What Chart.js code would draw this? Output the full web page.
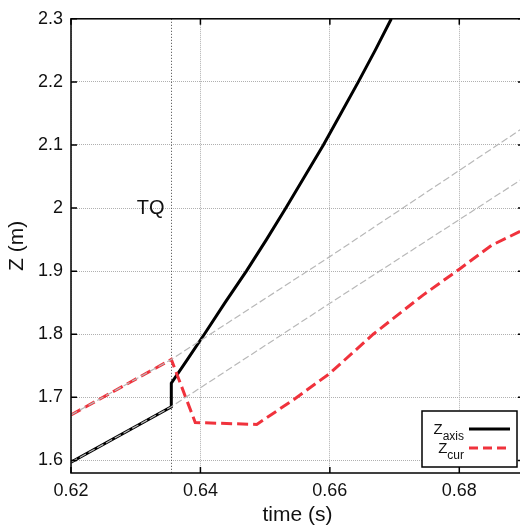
<!DOCTYPE html>
<html>
<head>
<meta charset="utf-8">
<script src="https://cdn.jsdelivr.net/npm/chart.js@4"></script>
<style>
  html, body { margin: 0; padding: 0; background: #fff; overflow: hidden; }
  #wrap { width: 520px; height: 531px; overflow: hidden; }
</style>
</head>
<body>
<div id="wrap"><canvas id="chart" width="528" height="531"></canvas></div>
<script>
// tick labels
const xTicks = [0.62, 0.64, 0.66, 0.68];
const yTicks = [1.6, 1.7, 1.8, 1.9, 2.0, 2.1, 2.2, 2.3];

// thermal quench time
const tqTime = 0.6355;
const tqLabel = 'TQ';

// Z_axis (black)
const zAxisT = [0.62, 0.6355, 0.6355, 0.638, 0.6406, 0.6438, 0.6471, 0.6502, 0.6532, 0.6561, 0.659, 0.6617, 0.6644, 0.667, 0.6695];
const zAxisZ = [1.597, 1.685, 1.7225, 1.76, 1.80, 1.85, 1.90, 1.95, 2.00, 2.05, 2.10, 2.15, 2.20, 2.25, 2.30];

// Z_cur (red dashed)
const zCurT = [0.62, 0.6355, 0.6392, 0.6487, 0.6545, 0.660, 0.6667, 0.6744, 0.680, 0.685, 0.690];
const zCurZ = [1.672, 1.760, 1.660, 1.657, 1.697, 1.738, 1.800, 1.862, 1.903, 1.941, 1.966];

// light grey guide lines
const guideUpperT = [0.62, 0.6355, 0.66, 0.69];
const guideUpperZ = [1.672, 1.760, 1.923, 2.128];
const guideLowerT = [0.62, 0.6355, 0.66, 0.69];
const guideLowerZ = [1.597, 1.685, 1.849, 2.048];

const legendNames = ['axis', 'cur'];

const pts = (t, z) => t.map((v, i) => ({x: v, y: z[i]}));
const FONT = '"Liberation Sans", Arial, Helvetica, sans-serif';

const overlay = {
  id: 'overlay',
  beforeDatasetsDraw(chart) {
    const {ctx, chartArea: a, scales: {x, y}} = chart;
    const px = Math.round(x.getPixelForValue(tqTime)) + 0.5;
    ctx.save();
    ctx.strokeStyle = '#444';
    ctx.lineWidth = 1;
    ctx.setLineDash([1, 2]);
    ctx.beginPath();
    ctx.moveTo(px, a.top);
    ctx.lineTo(px, a.bottom);
    ctx.stroke();
    ctx.setLineDash([]);
    ctx.font = '20px ' + FONT;
    ctx.fillStyle = '#111';
    ctx.textAlign = 'right';
    ctx.textBaseline = 'alphabetic';
    ctx.fillText(tqLabel, px - 7, y.getPixelForValue(1.9905));
    ctx.restore();
  },
  afterDatasetsDraw(chart) {
    const {ctx, chartArea: a, scales: {x, y}} = chart;
    ctx.save();
    ctx.strokeStyle = '#000';
    ctx.lineWidth = 1.5;
    ctx.strokeRect(a.left, a.top, a.right - a.left, a.bottom - a.top);
    ctx.beginPath();
    xTicks.forEach(v => {
      const p = x.getPixelForValue(v);
      ctx.moveTo(p, a.bottom); ctx.lineTo(p, a.bottom - 6);
      ctx.moveTo(p, a.top); ctx.lineTo(p, a.top + 6);
    });
    yTicks.forEach(v => {
      const p = y.getPixelForValue(v);
      ctx.moveTo(a.left, p); ctx.lineTo(a.left + 6, p);
      ctx.moveTo(a.right, p); ctx.lineTo(a.right - 6, p);
    });
    ctx.stroke();

    // legend
    const bw = 95, bh = 56;
    const bx = a.right - 102, by = a.bottom - 62;
    ctx.fillStyle = '#fff';
    ctx.fillRect(bx, by, bw, bh);
    ctx.lineWidth = 1.5;
    ctx.strokeRect(bx, by, bw, bh);
    const styles = [
      {color: '#000', dash: []},
      {color: '#f0323c', dash: [9, 5]}
    ];
    legendNames.forEach((name, i) => {
      const ly = by + 18 + i * 19;
      const textEnd = bx + 42;
      ctx.font = '12px ' + FONT;
      const subW = ctx.measureText(name).width;
      ctx.font = '15px ' + FONT;
      const zW = ctx.measureText('Z').width;
      ctx.fillStyle = '#111';
      ctx.textAlign = 'left';
      ctx.textBaseline = 'alphabetic';
      ctx.fillText('Z', textEnd - subW - zW, ly + 5);
      ctx.font = '12px ' + FONT;
      ctx.fillText(name, textEnd - subW, ly + 11);
      ctx.strokeStyle = styles[i].color;
      ctx.lineWidth = 3;
      ctx.setLineDash(styles[i].dash);
      ctx.beginPath();
      ctx.moveTo(bx + 47, ly);
      ctx.lineTo(bx + 88, ly);
      ctx.stroke();
      ctx.setLineDash([]);
    });
    ctx.restore();
  }
};

const keepTicks = list => scale => { scale.ticks = list.map(v => ({value: v})); };

new Chart(document.getElementById('chart'), {
  type: 'scatter',
  data: {
    datasets: [
      {label: 'guide upper', data: pts(guideUpperT, guideUpperZ), showLine: true,
       borderColor: '#b8b8b8', borderWidth: 1.2, borderDash: [7, 3], pointRadius: 0, order: 0},
      {label: 'guide lower', data: pts(guideLowerT, guideLowerZ), showLine: true,
       borderColor: '#b8b8b8', borderWidth: 1.2, borderDash: [7, 3], pointRadius: 0, order: 0},
      {label: 'Z_cur', data: pts(zCurT, zCurZ), showLine: true,
       borderColor: '#f0323c', borderWidth: 3, borderDash: [11, 5], pointRadius: 0, order: 1},
      {label: 'Z_axis', data: pts(zAxisT, zAxisZ), showLine: true,
       borderColor: '#000', borderWidth: 3, pointRadius: 0, order: 2}
    ]
  },
  options: {
    responsive: false,
    animation: false,
    events: [],
    layout: {padding: {left: 0, top: 15, right: 4, bottom: 0}},
    plugins: {legend: {display: false}, tooltip: {enabled: false}},
    scales: {
      x: {
        type: 'linear', min: 0.62, max: 0.69,
        afterBuildTicks: keepTicks(xTicks),
        afterFit: s => { s.height = 58; },
        grid: {color: '#b0b0b0', lineWidth: 1, drawTicks: false},
        border: {display: false, dash: [1, 1]},
        ticks: {color: '#111', padding: 7, font: {size: 18, family: FONT},
                maxRotation: 0, autoSkip: false,
                callback: v => v.toFixed(2)},
        title: {display: true, text: 'time (s)', color: '#111',
                font: {size: 21, family: FONT}, padding: {top: 0, bottom: 3}}
      },
      y: {
        type: 'linear', min: 1.58, max: 2.3,
        afterBuildTicks: keepTicks(yTicks),
        afterFit: s => { s.width = 71; },
        grid: {color: '#b0b0b0', lineWidth: 1, drawTicks: false},
        border: {display: false, dash: [1, 1]},
        ticks: {color: '#111', padding: 8, font: {size: 18, family: FONT},
                autoSkip: false,
                callback: v => String(Math.round(v * 10) / 10)},
        title: {display: true, text: 'Z (m)', color: '#111',
                font: {size: 21, family: FONT}, padding: {top: 5, bottom: 0}}
      }
    }
  },
  plugins: [overlay]
});
</script>
</body>
</html>
